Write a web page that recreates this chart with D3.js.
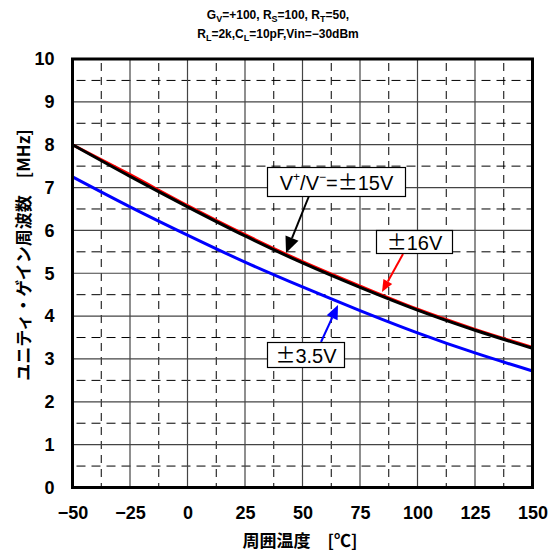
<!DOCTYPE html>
<html><head><meta charset="utf-8">
<script src="https://cdn.jsdelivr.net/npm/d3@7"></script>
<style>body{margin:0;background:#fff}</style>
</head><body>
<svg id="c" width="554" height="553"></svg>
<script>
const temps = [-50, -25, 0, 25, 50, 75, 100, 125, 150];
const v15 = [8.0, 7.26, 6.55, 5.87, 5.24, 4.67, 4.14, 3.67, 3.25];
const v16 = [8.0, 7.30, 6.58, 5.90, 5.27, 4.70, 4.16, 3.69, 3.27];
const v35 = [7.25, 6.55, 5.89, 5.26, 4.68, 4.13, 3.61, 3.14, 2.72];
const xTicks = [-50, -25, 0, 25, 50, 75, 100, 125, 150];
const yTicks = [0,1,2,3,4,5,6,7,8,9,10];
const xLabel = "周囲温度\u3000[℃]";
const yLabel = "ユニティ・ゲイン周波数\u3000[MHz]";

const svg = d3.select("#c");
const L = 72.5, R = 532.5, T = 59, B = 487.5;
const x = d3.scaleLinear().domain([-50,150]).range([L,R]);
const y = d3.scaleLinear().domain([0,10]).range([B,T]);
const font = "'Liberation Sans', Arial, sans-serif";
const tickFont = "'Liberation Sans Narrow', 'Arial Narrow', 'Liberation Sans', sans-serif";
const cjk = "'Noto Sans CJK JP', sans-serif";

// minor dashed grid
const g = svg.append("g");
d3.range(-37.5, 150, 25).forEach(t => {
  g.append("line").attr("x1", x(t)).attr("x2", x(t)).attr("y1", T).attr("y2", B)
   .attr("stroke", "#000").attr("stroke-width", 1).attr("stroke-dasharray", "8,6").attr("stroke-dashoffset", -4);
});
d3.range(0.5, 10, 1).forEach(v => {
  g.append("line").attr("x1", L).attr("x2", R).attr("y1", y(v)).attr("y2", y(v))
   .attr("stroke", "#000").attr("stroke-width", 1).attr("stroke-dasharray", "9,6").attr("stroke-dashoffset", -4);
});
// major grid
xTicks.slice(1, -1).forEach(t => {
  g.append("line").attr("x1", x(t)).attr("x2", x(t)).attr("y1", T).attr("y2", B)
   .attr("stroke", "#444").attr("stroke-width", 1.2);
});
yTicks.slice(1, -1).forEach(v => {
  g.append("line").attr("x1", L).attr("x2", R).attr("y1", y(v)).attr("y2", y(v))
   .attr("stroke", "#444").attr("stroke-width", 1.2);
});

// axes
const xa = svg.append("g").attr("transform", `translate(0,${B})`)
  .call(d3.axisBottom(x).tickValues(xTicks).tickSize(0).tickPadding(19).tickFormat(d => d < 0 ? "\u2212" + (-d) : d));
const ya = svg.append("g").attr("transform", `translate(${L},0)`)
  .call(d3.axisLeft(y).tickValues(yTicks).tickSize(0).tickPadding(18));
[xa, ya].forEach(a => {
  a.select(".domain").remove();
  a.selectAll("text").attr("font-family", tickFont).attr("font-weight", "bold").attr("font-size", 18).attr("fill", "#000");
});

// lines
const line = d3.line().x((d,i) => x(temps[i])).y(d => y(d)).curve(d3.curveMonotoneX);
svg.append("path").datum(v16).attr("d", line).attr("fill", "none").attr("stroke", "#ff0000").attr("stroke-width", 3);
svg.append("path").datum(v35).attr("d", line).attr("fill", "none").attr("stroke", "#0000ff").attr("stroke-width", 3);
svg.append("path").datum(v15).attr("d", line).attr("fill", "none").attr("stroke", "#000").attr("stroke-width", 3);

// border
svg.append("rect").attr("x", L).attr("y", T).attr("width", R-L).attr("height", B-T)
  .attr("fill", "none").attr("stroke", "#000").attr("stroke-width", 3);

// arrows
function arrow(x1, y1, x2, y2, color, hl, hw) {
  const ang = Math.atan2(y2-y1, x2-x1);
  const bx = x2 - hl*Math.cos(ang), by = y2 - hl*Math.sin(ang);
  svg.append("line").attr("x1", x1).attr("y1", y1).attr("x2", bx).attr("y2", by)
    .attr("stroke", color).attr("stroke-width", 2);
  const px = -Math.sin(ang)*hw, py = Math.cos(ang)*hw;
  svg.append("path").attr("d", `M${x2},${y2}L${bx+px},${by+py}L${bx-px},${by-py}Z`).attr("fill", color);
}
arrow(309, 196, 286, 253, "#000", 16, 7);
arrow(403, 254, 382, 292, "#ff0000", 12, 5);
arrow(321, 342, 338, 305, "#0000ff", 14, 6);

// label boxes
function box(x0, y0, w, h) {
  svg.append("rect").attr("x", x0).attr("y", y0).attr("width", w).attr("height", h)
    .attr("fill", "#fff").attr("stroke", "#000").attr("stroke-width", 1.2);
}
function pm(t) { t.append("tspan").attr("font-family", cjk).text("±"); }
box(267.5, 167.5, 138, 29);
const t1 = svg.append("text").attr("x", 336.5).attr("y", 190).attr("text-anchor", "middle")
  .attr("font-family", font).attr("font-size", 20);
t1.append("tspan").text("V");
t1.append("tspan").attr("font-size", 12).attr("dy", -9).text("+");
t1.append("tspan").attr("dy", 9).text("/V");
t1.append("tspan").attr("font-size", 12).attr("dy", -9).text("\u2212");
t1.append("tspan").attr("dy", 9).text("=");
pm(t1);
t1.append("tspan").text("15V");

box(376.5, 230.5, 76, 23);
const t2 = svg.append("text").attr("x", 414.5).attr("y", 250).attr("text-anchor", "middle")
  .attr("font-family", font).attr("font-size", 20);
pm(t2); t2.append("tspan").text("16V");

box(267.5, 342.5, 77, 25);
const t3 = svg.append("text").attr("x", 306).attr("y", 363).attr("text-anchor", "middle")
  .attr("font-family", font).attr("font-size", 20);
pm(t3); t3.append("tspan").text("3.5V");

// title
function subText(yy, parts) {
  const t = svg.append("text").attr("x", 278).attr("y", yy).attr("text-anchor", "middle")
    .attr("font-family", font).attr("font-weight", "bold").attr("font-size", 12);
  parts.forEach(p => {
    if (p[1]) t.append("tspan").attr("font-size", 9).attr("dy", 3).text(p[0]);
    else t.append("tspan").attr("dy", p[2] ? -3 : 0).text(p[0]);
  });
}
subText(19, [["G",0],["V",1],["=+100, R",0,1],["S",1],["=100, R",0,1],["T",1],["=50,",0,1]]);
subText(38, [["R",0],["L",1],["=2k,C",0,1],["L",1],["=10pF,Vin=\u221230dBm",0,1]]);

// axis labels
svg.append("text").attr("x", 300).attr("y", 547).attr("text-anchor", "middle")
  .attr("font-family", cjk).attr("font-weight", "bold").attr("font-size", 17).text(xLabel);
svg.append("text").attr("transform", "translate(30,255) rotate(-90)").attr("text-anchor", "middle")
  .attr("font-family", cjk).attr("font-weight", "bold").attr("font-size", 17).text(yLabel);
</script>
</body></html>
